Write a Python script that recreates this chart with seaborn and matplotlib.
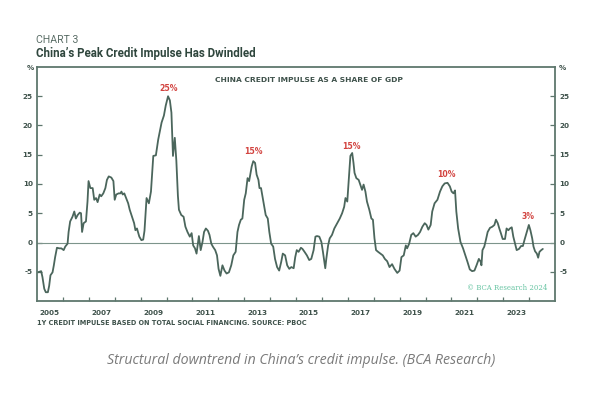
import matplotlib
matplotlib.use("Agg")
import matplotlib.pyplot as plt
from matplotlib.ticker import FixedLocator
import seaborn as sns
import pandas as pd

# ---------------- data ----------------
years = [
    2005.03, 2005.16, 2005.21, 2005.28, 2005.34, 2005.42, 2005.47, 2005.52, 2005.60, 2005.65,
    2005.70, 2005.77, 2005.86, 2005.94, 2006.03, 2006.09, 2006.18, 2006.22, 2006.28, 2006.37,
    2006.44, 2006.50, 2006.57, 2006.65, 2006.70, 2006.74, 2006.80, 2006.89, 2006.95, 2006.99,
    2007.06, 2007.15, 2007.21, 2007.28, 2007.34, 2007.42, 2007.48, 2007.56, 2007.64, 2007.70,
    2007.77, 2007.87, 2007.95, 2008.00, 2008.06, 2008.15, 2008.22, 2008.26, 2008.31, 2008.37,
    2008.44, 2008.52, 2008.58, 2008.67, 2008.75, 2008.80, 2008.86, 2008.95, 2009.03, 2009.10,
    2009.15, 2009.23, 2009.32, 2009.40, 2009.49, 2009.59, 2009.68, 2009.81, 2009.90, 2009.97,
    2010.06, 2010.13, 2010.19, 2010.25, 2010.32, 2010.38, 2010.44, 2010.48, 2010.57, 2010.66,
    2010.73, 2010.81, 2010.90, 2010.97, 2011.03, 2011.10, 2011.16, 2011.25, 2011.32, 2011.39,
    2011.45, 2011.52, 2011.60, 2011.66, 2011.73, 2011.79, 2011.88, 2011.95, 2012.01, 2012.08,
    2012.16, 2012.24, 2012.32, 2012.41, 2012.50, 2012.58, 2012.67, 2012.74, 2012.80, 2012.87,
    2012.93, 2013.00, 2013.06, 2013.13, 2013.19, 2013.25, 2013.29, 2013.35, 2013.42, 2013.48,
    2013.55, 2013.59, 2013.65, 2013.74, 2013.83, 2013.91, 2013.97, 2014.04, 2014.12, 2014.19,
    2014.27, 2014.35, 2014.43, 2014.49, 2014.58, 2014.66, 2014.74, 2014.82, 2014.91, 2014.97,
    2015.03, 2015.10, 2015.19, 2015.25, 2015.33, 2015.42, 2015.51, 2015.59, 2015.68, 2015.75,
    2015.81, 2015.90, 2015.98, 2016.04, 2016.13, 2016.17, 2016.24, 2016.30, 2016.39, 2016.48,
    2016.59, 2016.69, 2016.78, 2016.86, 2016.91, 2016.98, 2017.04, 2017.10, 2017.17, 2017.22,
    2017.26, 2017.33, 2017.42, 2017.48, 2017.55, 2017.61, 2017.68, 2017.74, 2017.83, 2017.91,
    2017.97, 2018.03, 2018.09, 2018.17, 2018.26, 2018.35, 2018.43, 2018.52, 2018.61, 2018.71,
    2018.80, 2018.91, 2019.00, 2019.07, 2019.16, 2019.24, 2019.29, 2019.37, 2019.45, 2019.53,
    2019.62, 2019.71, 2019.79, 2019.88, 2019.97, 2020.04, 2020.11, 2020.20, 2020.26, 2020.35,
    2020.46, 2020.56, 2020.65, 2020.74, 2020.85, 2020.94, 2021.01, 2021.08, 2021.14, 2021.19,
    2021.26, 2021.35, 2021.45, 2021.54, 2021.62, 2021.71, 2021.80, 2021.89, 2021.97, 2022.06,
    2022.13, 2022.16, 2022.20, 2022.27, 2022.33, 2022.40, 2022.49, 2022.58, 2022.66, 2022.72,
    2022.79, 2022.85, 2022.91, 2022.98, 2023.07, 2023.13, 2023.20, 2023.26, 2023.33, 2023.39,
    2023.46, 2023.52, 2023.61, 2023.69, 2023.76, 2023.82, 2023.91, 2023.99, 2024.05, 2024.12,
    2024.17, 2024.23, 2024.30, 2024.35, 2024.40, 2024.47, 2024.53,
]
impulse = [
    -5.1, -4.9, -5.9, -7.9, -8.5, -8.5, -7.4, -5.6, -5.1, -3.9,
    -2.5, -0.9, -1.0, -1.0, -1.3, -0.7, -0.2, 1.8, 3.6, 4.4,
    5.3, 4.1, 4.7, 5.1, 5.0, 1.8, 3.3, 3.6, 7.0, 10.5,
    9.3, 9.3, 7.3, 7.6, 6.9, 8.2, 7.9, 8.4, 9.3, 10.7,
    11.3, 11.1, 10.5, 7.3, 8.2, 8.4, 8.4, 8.7, 8.2, 8.4,
    7.6, 6.7, 5.6, 4.4, 3.3, 2.1, 2.4, 1.0, 0.4, 0.5,
    2.0, 7.6, 6.7, 8.7, 14.8, 14.9, 17.6, 20.5, 21.7, 23.4,
    25.0, 24.3, 22.2, 14.8, 17.9, 14.0, 8.0, 5.6, 4.7, 4.4,
    2.7, 1.8, 1.0, 1.6, -0.5, -1.0, -1.9, 1.1, -1.3, 0.1,
    1.8, 2.4, 2.0, 1.3, -0.2, -0.7, -1.3, -2.2, -4.5, -5.7,
    -3.9, -4.8, -5.3, -5.1, -3.9, -2.2, -1.6, 1.8, 3.0, 3.9,
    4.1, 7.3, 8.4, 11.0, 10.5, 12.0, 13.0, 13.9, 13.6, 11.6,
    10.7, 9.3, 9.3, 7.0, 4.7, 4.1, 1.8, -0.2, -0.7, -2.8,
    -4.2, -4.8, -3.3, -1.9, -2.2, -3.9, -4.5, -4.2, -4.4, -2.5,
    -1.3, -1.6, -0.9, -1.1, -1.6, -2.2, -3.0, -2.8, -1.3, 1.0,
    1.1, 1.0, 0.1, -1.6, -4.4, -2.8, -0.5, 0.7, 1.3, 2.4,
    3.3, 4.1, 5.0, 6.1, 7.6, 7.0, 11.0, 14.8, 15.3, 13.6,
    11.9, 11.0, 10.7, 9.9, 9.0, 9.9, 8.7, 7.0, 5.6, 4.1,
    3.9, 0.7, -1.3, -1.6, -1.9, -2.2, -2.8, -3.2, -4.2, -3.7,
    -4.5, -5.2, -4.8, -2.5, -2.2, -0.5, -1.0, -0.2, 1.3, 1.6,
    1.0, 1.3, 1.8, 2.7, 3.3, 3.0, 2.2, 3.0, 5.3, 6.7,
    7.3, 8.7, 9.6, 10.1, 10.2, 9.6, 8.7, 8.4, 8.9, 5.3,
    2.4, 0.1, -1.0, -2.2, -3.3, -4.6, -4.9, -4.8, -3.9, -2.8,
    -3.3, -3.9, -1.3, -0.7, 0.4, 1.8, 2.5, 2.7, 3.0, 3.9,
    3.3, 2.4, 1.6, 0.6, 0.6, 2.4, 2.1, 2.4, 2.6, 1.0,
    -0.2, -1.3, -1.1, -0.6, -0.6, 0.4, 1.8, 3.0, 2.1, 0.7,
    -0.7, -1.5, -1.9, -2.6, -1.6, -1.3, -1.1,
]

peak_labels = ["25%", "15%", "15%", "10%", "3%"]
peak_x = [2010.09, 2013.36, 2017.13, 2020.82, 2023.97]
peak_y = [26.3, 15.5, 16.4, 11.6, 4.4]

year_labels = ["2005", "2007", "2009", "2011", "2013", "2015", "2017", "2019", "2021", "2023"]
y_ticks = [-5, 0, 5, 10, 15, 20, 25]

# ---------------- style ----------------
sns.set_theme(style="white")
plt.rcParams["font.family"] = ["DejaVu Sans"]

LINE = "#4b665c"
FRAME = "#5e776d"
TXT = "#3f524b"
RED = "#d2433f"

fig = plt.figure(figsize=(6.01, 3.99), dpi=100)
ax = fig.add_axes([37 / 601, 98 / 399, 518 / 601, 234 / 399])

df = pd.DataFrame({"year": years, "impulse": impulse})
sns.lineplot(data=df, x="year", y="impulse", ax=ax, color=LINE, linewidth=1.3)
ax.axhline(0, color="#7d948b", linewidth=0.8, zorder=1)

ax.set_xlim(2005, 2025)
ax.set_ylim(-10, 30)
ax.set_xlabel("")
ax.set_ylabel("")

# x ticks: minor at year boundaries, labels at mid-year
ax.xaxis.set_minor_locator(FixedLocator(list(range(2006, 2025))))
ax.set_xticks([int(l) + 0.5 for l in year_labels])
ax.set_xticklabels(year_labels)
ax.tick_params(axis="x", which="major", length=0, pad=6.5, labelsize=5.2,
               labelcolor=TXT)
ax.tick_params(axis="x", which="minor", direction="in", length=3.2, width=0.9,
               color=FRAME, bottom=True)
for t in ax.get_xticklabels():
    t.set_fontweight("bold")

ax.set_yticks(y_ticks)
ax.set_yticklabels([str(v) for v in y_ticks])
ax.tick_params(axis="y", which="major", direction="in", length=3.5, width=0.9,
               color=FRAME, left=True, right=True, labelleft=True, labelright=True,
               labelsize=5.2, labelcolor=TXT, pad=3)
for t in ax.get_yticklabels():
    t.set_fontweight("bold")

for s in ax.spines.values():
    s.set_visible(True)
    s.set_color(FRAME)
    s.set_linewidth(1.3)

# annotations
for lab, xv, yv in zip(peak_labels, peak_x, peak_y):
    ax.text(xv, yv, lab, color=RED, fontsize=5.6, fontweight="bold",
            ha="center", va="center")

ax.text(0.525, 0.944, "CHINA CREDIT IMPULSE AS A SHARE OF GDP", transform=ax.transAxes,
        ha="center", va="center", fontsize=5.4, fontweight="bold", color=TXT)
ax.text(0.985, 0.056, "\u00a9 BCA Research 2024", transform=ax.transAxes,
        ha="right", va="center", fontsize=5.0, color="#66c4a2",
        family=["DejaVu Serif"])

# percent markers
fig.text(30.5 / 601, 1 - 68 / 399, "%", ha="center", va="center", fontsize=5.2,
         fontweight="bold", color=TXT)
fig.text(562.5 / 601, 1 - 68 / 399, "%", ha="center", va="center", fontsize=5.2,
         fontweight="bold", color=TXT)

# titles
fig.text(36 / 601, 1 - 40 / 399, "CHART 3", ha="left", va="center", fontsize=7.6,
         color="#5b6e67", family=["Roboto", "DejaVu Sans"])
fig.text(36 / 601, 1 - 54 / 399, "China\u2019s Peak Credit Impulse Has Dwindled",
         ha="left", va="center", fontsize=8.3, fontweight="bold", color="#2f463d",
         family=["Roboto", "DejaVu Sans"])

# footnote
fig.text(37 / 601, 1 - 323 / 399,
         "1Y CREDIT IMPULSE BASED ON TOTAL SOCIAL FINANCING. SOURCE: PBOC",
         ha="left", va="center", fontsize=4.7, fontweight="bold", color=TXT)

# caption
fig.text(301 / 601, 1 - 361 / 399,
         "Structural downtrend in China\u2019s credit impulse. (BCA Research)",
         ha="center", va="center", fontsize=10.2, style="italic", color="#7a7a7a",
         family=["Open Sans", "DejaVu Sans"])

fig.savefig("out.png", dpi=100, facecolor="white")
